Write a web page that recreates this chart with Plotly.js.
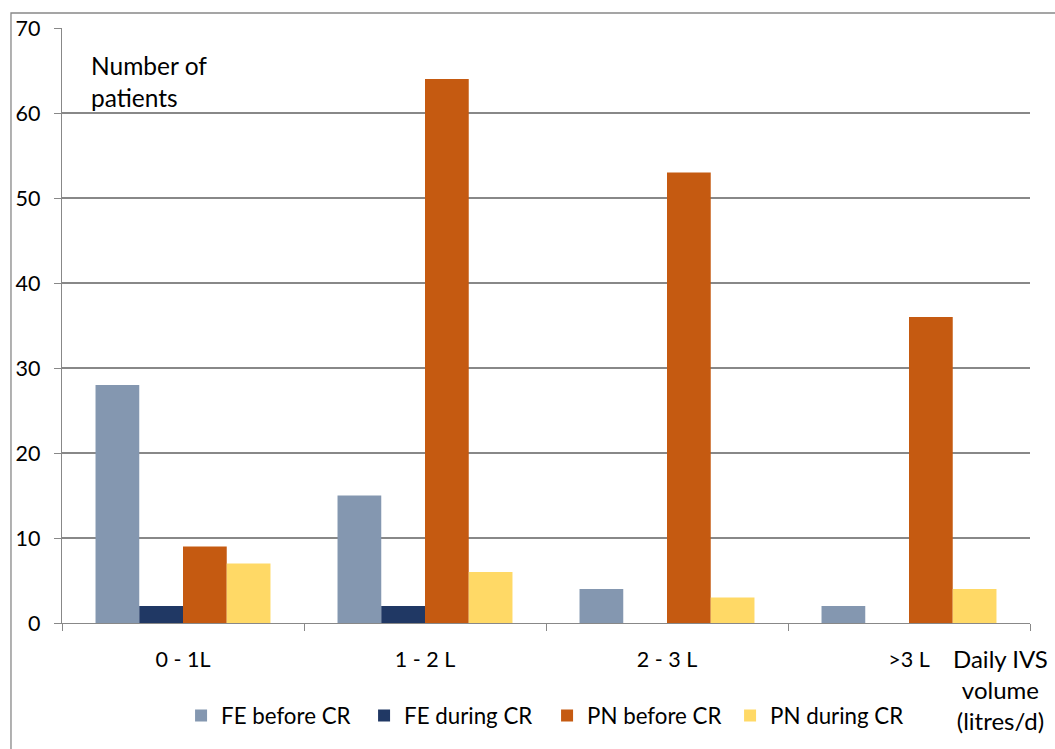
<!DOCTYPE html>
<html><head><meta charset="utf-8">
<script src="https://cdn.plot.ly/plotly-3.0.1.min.js"></script>
<style>html,body{margin:0;padding:0;background:#fff}#c{width:1055px;height:749px}</style>
</head><body><div id="c"></div>
<script>
const categories = ["0 - 1L", "1 - 2 L", "2 - 3 L", ">3 L"];
const feBefore = [28, 15, 4, 2];
const feDuring = [2, 2, 0, 0];
const pnBefore = [9, 64, 53, 36];
const pnDuring = [7, 6, 3, 4];
const seriesNames = ["FE before CR", "FE during CR", "PN before CR", "PN during CR"];
const colors = ["#8497B0", "#203864", "#C55A11", "#FFD966"];
const yTicks = [0, 10, 20, 30, 40, 50, 60, 70];

const font = "Lato, 'Open Sans', sans-serif";
const fs = 21.5;
const vals = [feBefore, feDuring, pnBefore, pnDuring];
const traces = vals.map((v, i) => ({
  type: "bar", x: categories, y: v, name: seriesNames[i],
  marker: {color: colors[i], line: {width: 0}}
}));

const layout = {
  width: 1055, height: 749,
  margin: {l: 62, r: 25, t: 28, b: 126},
  paper_bgcolor: "#fff", plot_bgcolor: "#fff",
  font: {family: font, size: fs, color: "#000"},
  barmode: "group", bargap: 0.277, bargroupgap: 0,
  showlegend: true,
  legend: {orientation: "h", x: 0.123, y: -0.12, xanchor: "left", yanchor: "top",
    font: {family: font, size: 22.3, color: "#000"}, itemwidth: 30, traceorder: "normal",
    entrywidth: 138, entrywidthmode: "pixels", tracegroupgap: 0},
  xaxis: {type: "category", showgrid: false, showline: true, linecolor: "#888", linewidth: 1.3,
    ticks: "outside", ticklen: 7, tickcolor: "#888", tickson: "boundaries",
    tickfont: {family: font, size: fs}, zeroline: false, ticklabelstandoff: 17,
    fixedrange: true},
  yaxis: {range: [0, 70], tickvals: yTicks, showgrid: true, gridcolor: "#888", gridwidth: 1.3,
    showline: true, linecolor: "#888", linewidth: 1.3, ticks: "outside", ticklen: 7, tickcolor: "#888",
    tickfont: {family: font, size: fs}, zeroline: false, ticklabelstandoff: 9, fixedrange: true},
  annotations: [
    {text: "Number of<br>patients", xref: "paper", yref: "paper", x: 0.028, y: 0.965,
     xanchor: "left", yanchor: "top", align: "left", showarrow: false,
     font: {family: font, size: 24.5}},
    {text: "Daily IVS<br>volume<br>(litres/d)", xref: "paper", yref: "paper", x: 0.97, y: -0.032,
     xanchor: "center", yanchor: "top", align: "center", showarrow: false,
     font: {family: font, size: 24}}
  ],
  shapes: [
    {type: "rect", xref: "paper", yref: "paper", x0: -0.0527, x1: 1.2, y0: -0.5, y1: 1.0252,
     line: {color: "#888", width: 1.3}, fillcolor: "rgba(0,0,0,0)", layer: "below"}
  ]
};
Plotly.newPlot("c", traces, layout, {displayModeBar: false, staticPlot: true});
</script></body></html>
